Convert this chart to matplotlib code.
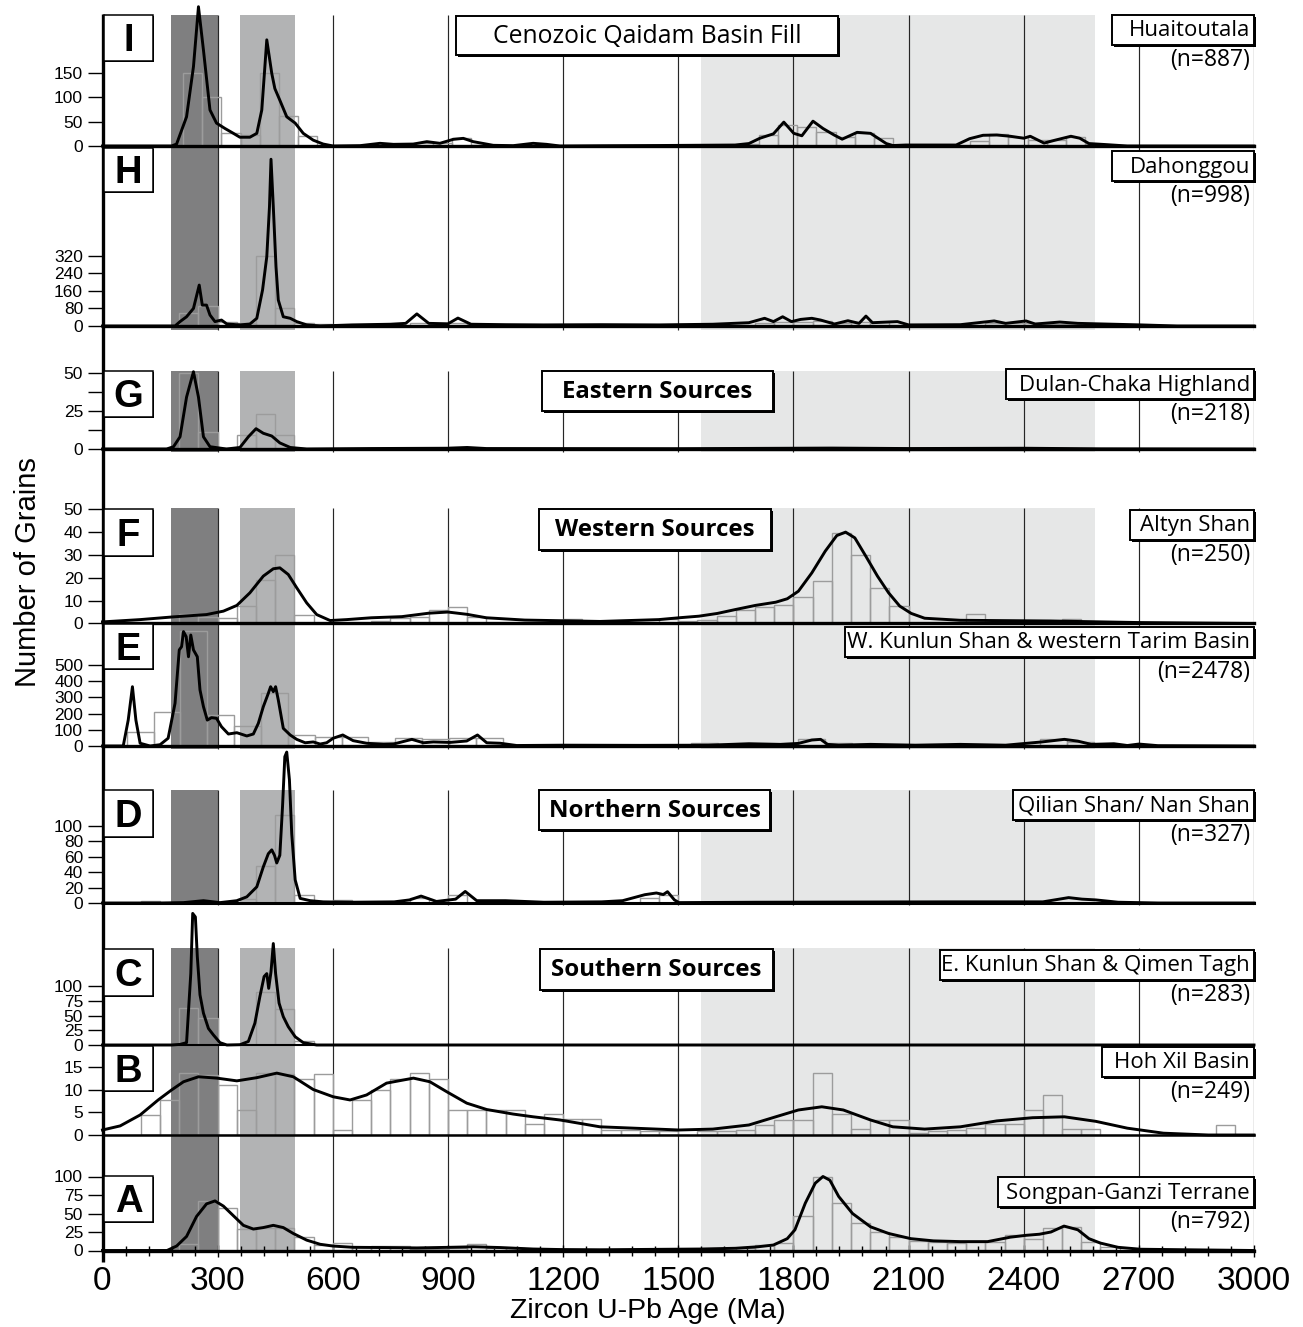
import matplotlib
matplotlib.use("Agg")
import matplotlib.pyplot as plt
from matplotlib.patches import Rectangle

# ======================= DATA =======================
age_tick_labels = [0, 300, 600, 900, 1200, 1500, 1800, 2100, 2400, 2700, 3000]
panel_ids = ["I", "H", "G", "F", "E", "D", "C", "B", "A"]
sample_names = ["Huaitoutala", "Dahonggou", "Dulan-Chaka Highland", "Altyn Shan",
                "W. Kunlun Shan & western Tarim Basin", "Qilian Shan/ Nan Shan",
                "E. Kunlun Shan & Qimen Tagh", "Hoh Xil Basin", "Songpan-Ganzi Terrane"]
sample_n = [887, 998, 218, 250, 2478, 327, 283, 249, 792]
group_titles = ["Cenozoic Qaidam Basin Fill", "Eastern Sources", "Western Sources",
                "Northern Sources", "Southern Sources"]

# age bands (Ma)
band_dark = (178, 300)
band_mid = (358, 501)
band_light = (1560, 2585)

# ---- I: Huaitoutala ----
I_hist_width = 50
I_hist_left = [210, 260, 310, 360, 410, 460, 510, 760, 810, 860, 910, 960, 1660, 1710, 1760, 1810,
               1860, 1910, 1960, 2010, 2060, 2260, 2310, 2360, 2410, 2460, 2510, 2560]
I_hist_count = [150, 100, 26, 23, 149, 62, 20, 4, 6, 7, 16, 3, 4, 22, 43, 38,
                29, 19, 26, 16, 3, 10, 24, 18, 13, 13, 18, 4]
I_kde_age = [0, 150, 180, 193, 219, 237, 250, 263, 280, 297, 319, 341, 358, 384, 402, 415, 428, 441,
             449, 462, 480, 502, 523, 549, 575, 601, 671, 723, 758, 810, 845, 879, 914, 940, 966,
             1018, 1070, 1122, 1157, 1192, 1300, 1450, 1550, 1648, 1684, 1713, 1748, 1775, 1801,
             1822, 1851, 1877, 1906, 1927, 1966, 2001, 2042, 2059, 2093, 2160, 2224, 2259, 2294,
             2330, 2365, 2400, 2417, 2453, 2482, 2523, 2546, 2570, 2612, 2670, 2800, 3000]
I_kde_val = [0, 0, 0, 4, 60, 163, 286, 197, 74, 47, 36, 26, 18, 18, 26, 74, 218, 149,
             118, 94, 60, 47, 26, 12, 4, 0, 0.7, 5.5, 3.4, 4, 8.9, 5.5, 13.7, 15.7, 8.9,
             1.4, 0.7, 5.5, 3.4, 0, 0.5, 1, 1.5, 2, 5, 16, 25, 49, 26,
             21, 51, 36, 22.6, 14, 28, 26, 5, 1, 2, 2, 2, 15, 22,
             22.6, 20, 16, 20, 6, 12, 20, 16, 5, 3, 0, 0, 0]

# ---- H: Dahonggou ----
H_hist_width = 50
H_hist_left = [200, 250, 300, 350, 400, 450, 500, 550, 800, 850, 900, 950, 1700, 1750, 1800, 1850,
               1900, 1950, 2000, 2300, 2350, 2400, 2450, 2500]
H_hist_count = [60, 91, 20, 12, 320, 83, 15, 8, 15, 10, 12, 8, 12, 18, 20, 25,
                15, 18, 20, 12, 15, 12, 10, 8]
H_kde_age = [0, 150, 189, 202, 219, 237, 252, 260, 271, 280, 293, 310, 324, 358, 384, 402, 417, 428,
             435, 439, 445, 452, 458, 471, 489, 506, 532, 567, 650, 750, 790, 819, 850, 900, 926,
             960, 1050, 1150, 1300, 1450, 1590, 1684, 1725, 1748, 1772, 1795, 1819, 1848, 1871,
             1907, 1942, 1971, 1989, 2006, 2071, 2100, 2235, 2323, 2353, 2406, 2430, 2494, 2541,
             2611, 2705, 2800, 3000]
H_kde_val = [0, 0, 0, 20, 42, 80, 186, 95, 95, 50, 20, 27, 9, 5, 9, 35, 164, 315,
             542, 758, 542, 270, 118, 42, 35, 20, 5, 0, 5, 8, 12, 55, 12, 10, 36,
             8, 6, 5, 6, 5, 8, 15, 35, 20, 42, 20, 30, 35, 27,
             9, 24, 12, 45, 15, 20, 5, 6, 23, 12, 23, 9, 18, 12,
             9, 5, 0, 0]

# ---- G: Dulan-Chaka Highland ----
G_hist_width = 50
G_hist_left = [200, 250, 350, 400, 450, 900]
G_hist_count = [50, 11, 9, 23, 9, 1.3]
G_kde_age = [0, 167, 185, 202, 219, 237, 250, 263, 280, 323, 358, 380, 400, 419, 441, 462, 489, 532,
             700, 900, 950, 1000, 1500, 1900, 2100, 2400, 2600, 3000]
G_kde_val = [0, 0, 1.5, 8, 34, 50.6, 34, 8, 1.5, 0, 1, 8, 13.3, 10.3, 8.5, 4, 1, 0,
             0.3, 0.5, 1, 0.3, 0.2, 0.6, 0.3, 0.5, 0.1, 0]

# ---- F: Altyn Shan ----
F_hist_width = 50
F_hist_left = [200, 250, 300, 350, 400, 450, 500, 700, 750, 800, 850, 900, 950, 1200, 1450, 1500,
               1550, 1600, 1650, 1700, 1750, 1800, 1850, 1900, 1950, 2000, 2050, 2250, 2500]
F_hist_count = [4, 3, 2.5, 7.6, 19, 30, 3.5, 1, 2.5, 3, 6, 7, 3, 2, 2, 1,
                1.7, 3.2, 6, 7.2, 8, 11.4, 18.6, 39.7, 30, 15.5, 7.6, 4, 2]
F_kde_age = [0, 98, 185, 271, 315, 350, 384, 419, 445, 462, 484, 506, 532, 558, 593, 636, 700, 780,
             850, 900, 950, 1000, 1100, 1296, 1449, 1502, 1554, 1602, 1649, 1701, 1754, 1784,
             1813, 1848, 1883, 1913, 1936, 1960, 1989, 2019, 2048, 2077, 2107, 2142, 2235, 2470,
             2705, 3000]
F_kde_val = [0.7, 1.7, 2.9, 3.9, 5.4, 7.9, 13.4, 20.7, 23.9, 24.3, 21.4, 15.6, 9, 3.9, 1.3, 1.7, 2.5, 3,
             4.5, 5, 4, 2.5, 1.5, 0.9, 1.7, 2.5, 3.2, 4.4, 6.1, 7.9, 9.3, 10.8,
             14.1, 22.1, 31.6, 38.4, 39.9, 37.4, 29.3, 20.7, 13.4, 7.6, 4.4, 2.3, 1.4, 1.1,
             0.4, 0]

# ---- E: W. Kunlun Shan & western Tarim Basin ----
E_hist_width = 70
E_hist_left = [63, 133, 203, 273, 343, 413, 483, 553, 623, 693, 763, 833, 903, 973, 1533, 1603,
               1673, 1743, 1813, 1883, 2443, 2513, 2653]
E_hist_count = [88, 208, 710, 191, 123, 326, 68, 54, 55, 27, 52, 44, 48, 52, 16, 10,
                12, 14, 41, 21, 41, 25, 5]
E_kde_age = [0, 54, 67, 78, 87, 98, 124, 150, 171, 189, 200, 206, 211, 218, 224, 230, 237, 247, 254,
             263, 273, 284, 297, 310, 328, 350, 376, 393, 406, 419, 432, 438, 445, 451, 458, 471,
             489, 506, 528, 549, 567, 584, 601, 626, 653, 688, 732, 758, 806, 836, 862, 905, 949,
             977, 1001, 1036, 1079, 1200, 1400, 1578, 1684, 1766, 1813, 1848, 1871, 1889, 1918,
             2001, 2118, 2235, 2353, 2447, 2506, 2541, 2576, 2635, 2670, 2700, 2750, 3000]
E_kde_val = [0, 0, 160, 366, 160, 17, 0, 8, 48, 264, 593, 613, 706, 675, 551, 685, 593, 551, 346,
             243, 160, 175, 171, 119, 74, 82, 62, 74, 140, 243, 325, 366, 335, 366, 284, 109,
             68, 41, 20, 25, 12, 20, 48, 68, 33, 17, 10, 12, 41, 20, 25, 22, 31,
             68, 20, 17, 3, 5, 4, 5, 14, 10, 16, 37, 41, 10, 5,
             10, 5, 10, 5, 25, 41, 30, 10, 14, 3, 12, 2, 0]

# ---- D: Qilian Shan / Nan Shan ----
D_hist_width = 50
D_hist_left = [100, 350, 400, 450, 500, 600, 800, 900, 1400, 1450, 2050]
D_hist_count = [2, 5, 48, 114, 10, 4, 7, 10, 6, 11, 2]
D_kde_age = [0, 150, 211, 263, 306, 350, 376, 402, 419, 432, 441, 448, 454, 462, 469, 475, 480, 487,
             493, 502, 515, 541, 575, 650, 760, 800, 830, 870, 920, 945, 975, 1050, 1150, 1300,
             1355, 1413, 1443, 1461, 1472, 1490, 1502, 1700, 2200, 2450, 2517, 2552, 2588, 2646,
             2750, 3000]
D_kde_val = [0, 0, 0.5, 3, 0.5, 3, 8, 21, 47, 64, 69, 62, 52, 62, 125, 190, 196, 160,
             90, 30, 6, 3, 1.5, 1, 1.5, 4, 9, 2, 5, 15, 3, 3, 1, 1.5,
             3, 10.8, 13, 11, 14.7, 4, 0.5, 1, 1.5, 1.5, 7, 5, 4, 1,
             0, 0]

# ---- C: E. Kunlun Shan & Qimen Tagh ----
C_hist_width = 50
C_hist_left = [200, 250, 400, 450, 500]
C_hist_count = [63, 45, 90, 61, 6]
C_kde_age = [0, 180, 202, 219, 230, 235, 242, 247, 254, 263, 276, 289, 306, 324, 358, 380, 397, 410,
             421, 428, 433, 439, 445, 451, 460, 471, 484, 502, 523, 558, 600, 3000]
C_kde_val = [0, 0, 1, 4, 121, 223, 217, 150, 85, 54, 28, 17, 4, 0, 0.5, 6, 37, 82,
             116, 121, 96, 124, 172, 121, 71, 48, 31, 14, 4, 0, 0, 0]

# ---- B: Hoh Xil Basin ----
B_hist_width = 50
B_hist_left = [100, 150, 200, 250, 300, 350, 400, 450, 500, 550, 600, 650, 700, 750, 800, 850, 900,
               950, 1000, 1050, 1100, 1150, 1200, 1250, 1300, 1350, 1400, 1450, 1550, 1600, 1650,
               1700, 1750, 1800, 1850, 1900, 1950, 2000, 2050, 2100, 2150, 2200, 2250, 2300, 2350,
               2400, 2450, 2500, 2550, 2900]
B_hist_count = [4.5, 7.8, 13.6, 13.2, 11, 5.5, 13.6, 13.3, 12.2, 13.3, 1.2, 7.7, 10, 12.2, 13.7, 12.2, 5.5,
                5.5, 5.5, 5.5, 2.4, 4.6, 3.5, 3.5, 1.2, 1.2, 0.8, 0.8, 0.8, 0.8, 1.2,
                2.2, 3.4, 3.4, 13.6, 4.6, 1.3, 3.4, 3.4, 0.5, 0.8, 1.2, 1.5, 2.4, 2.4,
                5.6, 8.9, 1.3, 1.3, 2.2]
B_kde_age = [0, 46, 98, 145, 180, 211, 250, 298, 350, 402, 454, 497, 549, 601, 645, 688, 740, 810,
             853, 897, 949, 1001, 1070, 1122, 1192, 1296, 1502, 1590, 1684, 1754, 1813, 1874, 1930,
             2001, 2059, 2142, 2235, 2330, 2423, 2506, 2588, 2670, 2764, 2881, 3000]
B_kde_val = [1.1, 2, 4.4, 7.7, 9.9, 11.7, 12.8, 12.5, 11.9, 12.6, 13.6, 12.8, 10, 8.4, 7.7, 8.8, 11.4, 12.5,
             11.7, 9.5, 7, 5.6, 4.6, 4, 3.3, 1.8, 1.1, 1.3, 2.2, 4, 5.5, 6.2, 5.5,
             3.3, 1.8, 1.3, 1.8, 3.1, 3.8, 4, 3, 1.5, 0.4, 0, 0]

# ---- A: Songpan-Ganzi Terrane ----
A_hist_width = 50
A_hist_left = [200, 250, 300, 350, 400, 450, 500, 550, 600, 650, 700, 750, 800, 850, 900, 950, 1000,
               1050, 1100, 1150, 1650, 1700, 1750, 1800, 1850, 1900, 1950, 2000, 2050, 2100, 2150,
               2200, 2250, 2300, 2350, 2400, 2450, 2500, 2550, 2600]
A_hist_count = [8.8, 67, 57, 29, 30, 31, 18, 7.4, 9.7, 5, 6, 6, 2, 2, 3, 8.4, 3,
                3, 2, 2, 3, 7.4, 10, 47, 100, 64, 37, 25, 18, 13, 11,
                10, 11, 11, 21, 16, 30, 32, 12, 5]
A_kde_age = [0, 155, 168, 193, 219, 245, 271, 293, 315, 341, 367, 393, 419, 445, 471, 497, 532, 567,
             601, 653, 732, 819, 905, 966, 1036, 1122, 1192, 1296, 1560, 1649, 1707, 1748, 1784,
             1804, 1831, 1857, 1877, 1895, 1918, 1954, 2001, 2048, 2106, 2165, 2235, 2306, 2365,
             2406, 2441, 2471, 2505, 2541, 2570, 2600, 2646, 2705, 2822, 3000]
A_kde_val = [0, 0, 0, 6, 19, 46, 63, 67, 60, 47, 34, 29, 31, 34, 31, 23, 14, 8.4,
             6, 4.3, 4, 3.5, 4.3, 5, 4, 2, 1.3, 1, 2, 3, 5, 7.4, 16,
             28, 64, 91, 100, 95, 73, 50, 32, 23, 16, 13, 12, 12, 18,
             20.5, 22, 25, 33, 28, 16, 10, 4.3, 1.7, 1, 0]

y_ticks = {
    "I": [0, 50, 100, 150], "H": [0, 80, 160, 240, 320], "G": [0, 25, 50],
    "F": [0, 10, 20, 30, 40, 50], "E": [0, 100, 200, 300, 400, 500],
    "D": [0, 20, 40, 60, 80, 100], "C": [0, 25, 50, 75, 100], "B": [0, 5, 10, 15],
    "A": [0, 25, 50, 75, 100],
}
y_minor_ticks = {"G": [12.5, 37.5]}

hist_data = {
    "I": (I_hist_left, I_hist_count, I_hist_width), "H": (H_hist_left, H_hist_count, H_hist_width),
    "G": (G_hist_left, G_hist_count, G_hist_width), "F": (F_hist_left, F_hist_count, F_hist_width),
    "E": (E_hist_left, E_hist_count, E_hist_width), "D": (D_hist_left, D_hist_count, D_hist_width),
    "C": (C_hist_left, C_hist_count, C_hist_width), "B": (B_hist_left, B_hist_count, B_hist_width),
    "A": (A_hist_left, A_hist_count, A_hist_width),
}
kde_data = {
    "I": (I_kde_age, I_kde_val), "H": (H_kde_age, H_kde_val), "G": (G_kde_age, G_kde_val),
    "F": (F_kde_age, F_kde_val), "E": (E_kde_age, E_kde_val), "D": (D_kde_age, D_kde_val),
    "C": (C_kde_age, C_kde_val), "B": (B_kde_age, B_kde_val), "A": (A_kde_age, A_kde_val),
}

# ======================= LAYOUT / STYLE =======================
plt.rcParams["font.family"] = ["Liberation Sans", "DejaVu Sans"]
W, H = 1303, 1327
X0, X1 = 102.5, 1254.0        # pixel x of 0 and 3000 Ma
AGE_MIN, AGE_MAX = 0, 3000

# (top px, baseline px, px per count, baseline width)
layout = {
    "I": (0, 146, 0.487, 2.4), "H": (146, 326, 0.22, 2.4), "G": (326, 449, 1.527, 2.4),
    "F": (449, 623.5, 2.29, 2.4), "E": (623.5, 746, 0.162, 2.4), "D": (746, 903, 0.77, 2.2),
    "C": (903, 1045, 0.59, 1.5), "B": (1045, 1135, 4.55, 1.8), "A": (1135, 1250.5, 0.74, 2.4),
}
shade_groups = [(15, 330), (371, 452), (508, 749), (790, 905), (948, 1251)]

C_DARK, C_MID, C_LIGHT = "#7f7f80", "#b2b3b4", "#e6e7e7"
HIST_EDGE = "#9c9c9c"
TXT_FONT = ["Open Sans", "DejaVu Sans"]


def frac_rect(x0, y0, x1, y1):
    return [x0 / W, 1 - y1 / H, (x1 - x0) / W, (y1 - y0) / H]


fig = plt.figure(figsize=(W / 100, H / 100), dpi=100)

# background: bands + vertical lines
ax_bg = fig.add_axes(frac_rect(X0, 0, X1, H))
ax_bg.set_xlim(AGE_MIN, AGE_MAX)
ax_bg.set_ylim(H, 0)
ax_bg.axis("off")
for (yt, yb) in shade_groups:
    for (a0, a1), col in ((band_dark, C_DARK), (band_mid, C_MID), (band_light, C_LIGHT)):
        ax_bg.add_patch(Rectangle((a0, yt), a1 - a0, yb - yt, facecolor=col, edgecolor="none", zorder=1))
    ax_bg.vlines(age_tick_labels[1:], yt, yb, colors="#262626", lw=0.85, zorder=2)

# panels
axes = {}
for pid in panel_ids:
    top, base, scale, blw = layout[pid]
    ax = fig.add_axes(frac_rect(X0, top, X1, base))
    ax.patch.set_alpha(0)
    ax.set_xlim(AGE_MIN, AGE_MAX)
    ax.set_ylim(0, (base - top) / scale)
    for s in ax.spines.values():
        s.set_visible(False)
    left, cnt, w = hist_data[pid]
    ax.bar(left, cnt, width=w, align="edge", facecolor="none", edgecolor=HIST_EDGE, lw=1.0, zorder=2)
    ages, vals = kde_data[pid]
    ax.plot(ages, vals, color="black", lw=2.1, zorder=3, clip_on=False, solid_joinstyle="round")
    ax.axhline(0, color="black", lw=blw, zorder=4, clip_on=False)
    ax.set_yticks(y_ticks[pid])
    ax.set_yticklabels([str(t) for t in y_ticks[pid]])
    if pid in y_minor_ticks:
        ax.set_yticks(y_minor_ticks[pid], minor=True)
    ax.tick_params(axis="y", which="both", direction="out", length=11, width=1.0, pad=3, labelsize=12.5)
    if pid == "A":
        ax.set_xticks(age_tick_labels)
        ax.set_xticklabels([str(t) for t in age_tick_labels])
        ax.set_xticks(list(range(0, 3001, 60)), minor=True)
        ax.tick_params(axis="x", which="major", direction="inout", length=8, width=1.0, pad=7, labelsize=24)
        ax.tick_params(axis="x", which="minor", direction="inout", length=7, width=1.0)
        ax.set_xlabel("Zircon U-Pb Age (Ma)", fontsize=20.5, labelpad=1,
                      x=(648 - X0) / (X1 - X0))
    else:
        ax.set_xticks([])
    axes[pid] = ax

# overlay in pixel coordinates
ax_ov = fig.add_axes([0, 0, 1, 1])
ax_ov.set_xlim(0, W)
ax_ov.set_ylim(H, 0)
ax_ov.axis("off")
ax_ov.set_zorder(10)

ax_ov.plot([X0, X0], [14, 1262], color="black", lw=2.4, solid_capstyle="butt")


def box(x0, y0, x1, y1, lw=1.3, shadow=1.5):
    if shadow:
        ax_ov.add_patch(Rectangle((x0 + shadow, y0 + shadow), x1 - x0, y1 - y0, facecolor="black",
                                  edgecolor="none", zorder=5))
    ax_ov.add_patch(Rectangle((x0, y0), x1 - x0, y1 - y0, facecolor="white", edgecolor="black",
                              lw=lw, zorder=6))


# panel letter boxes
letter_boxes = {"I": (15, 61), "H": (148, 192), "G": (371, 417), "F": (509, 556), "E": (624, 669),
                "D": (790, 837), "C": (949, 996), "B": (1046, 1091), "A": (1176, 1222)}
for pid in panel_ids:
    y0, y1 = letter_boxes[pid]
    box(104, y0, 153, y1, lw=1.1, shadow=1.0)
    ax_ov.text(128.5, (y0 + y1) / 2 + 13.4, pid, fontsize=27.5, fontweight="bold",
               ha="center", va="baseline", zorder=7)

# group titles
title_boxes = [(456, 16, 838, 55, False), (542, 371, 773, 411, True), (539, 509, 771, 550, True),
               (539, 790, 770, 830, True), (540, 949, 773, 990, True)]
for s, (x0, y0, x1, y1, bold) in zip(group_titles, title_boxes):
    box(x0, y0, x1, y1, lw=1.4, shadow=1.6)
    ax_ov.text((x0 + x1) / 2, (y0 + y1) / 2 + 1, s, fontsize=17.8 if not bold else 17.3,
               fontweight="bold" if bold else "normal", family=TXT_FONT,
               ha="center", va="center", zorder=7)

# sample names + n
name_left = [1112, 1112, 1006, 1130, 845, 1013, 940, 1102, 998]
name_cy = [30, 166, 384, 525, 642, 805, 965, 1062, 1192]
for s, n, xl, cy in zip(sample_names, sample_n, name_left, name_cy):
    box(xl, cy - 15, 1254, cy + 15, lw=1.4, shadow=1.6)
    ax_ov.text(1250, cy + 1, s, fontsize=16, family=TXT_FONT, ha="right", va="center", zorder=7)
    ax_ov.text(1250, cy + 30, "(n=%d)" % n, fontsize=16.5, family=TXT_FONT, ha="right", va="center", zorder=7)

ax_ov.text(28, 572, "Number of Grains", fontsize=21, rotation=90, ha="center", va="center")

fig.savefig("out.png", dpi=100)
